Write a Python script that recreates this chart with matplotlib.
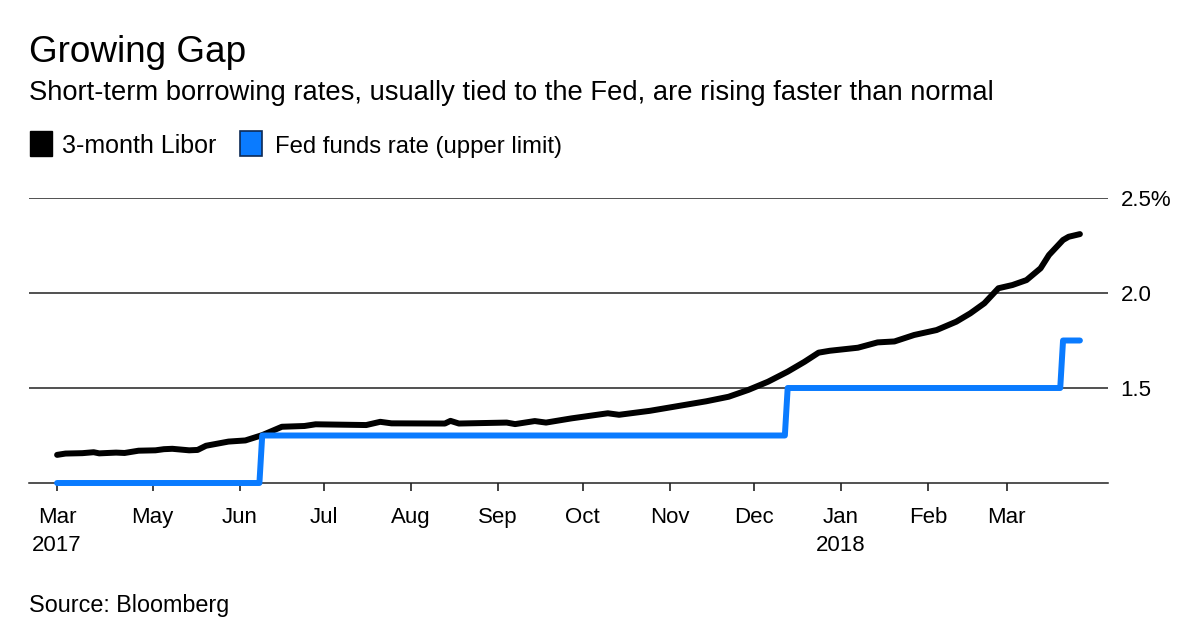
import matplotlib
matplotlib.use("Agg")
import matplotlib.pyplot as plt
import pandas as pd
from matplotlib.patches import Rectangle

plt.rcParams['font.family'] = ['Liberation Sans', 'DejaVu Sans']

# ---------------- data ----------------
libor_dates = ['2017-03-28', '2017-03-31', '2017-04-06', '2017-04-10', '2017-04-12', '2017-04-18',
               '2017-04-21', '2017-04-26', '2017-05-02', '2017-05-05',
               '2017-05-08', '2017-05-14', '2017-05-17', '2017-05-20', '2017-05-28', '2017-06-03',
               '2017-06-09',
               '2017-06-16', '2017-06-24', '2017-06-28', '2017-07-16', '2017-07-21', '2017-07-25',
               '2017-08-13', '2017-08-15', '2017-08-18', '2017-09-04', '2017-09-07', '2017-09-14',
               '2017-09-18', '2017-09-27', '2017-10-10', '2017-10-14', '2017-10-25', '2017-11-06',
               '2017-11-14', '2017-11-22', '2017-11-29', '2017-12-06', '2017-12-13', '2017-12-19',
               '2017-12-24', '2017-12-28', '2018-01-07', '2018-01-14', '2018-01-20', '2018-01-27',
               '2018-02-04', '2018-02-11', '2018-02-16', '2018-02-21', '2018-02-26', '2018-03-03',
               '2018-03-08', '2018-03-13', '2018-03-16', '2018-03-21', '2018-03-23', '2018-03-27']
libor_values = [1.148, 1.155, 1.157, 1.162, 1.156, 1.160,
                1.158, 1.170, 1.172, 1.178,
                1.180, 1.172, 1.174, 1.196, 1.218, 1.224,
                1.252,
                1.296, 1.300, 1.309, 1.305, 1.322, 1.314,
                1.313, 1.327, 1.313, 1.318, 1.310, 1.326,
                1.318, 1.340, 1.367, 1.359, 1.380, 1.410,
                1.430, 1.454, 1.490, 1.533, 1.586, 1.638,
                1.686, 1.696, 1.712, 1.740, 1.745, 1.779,
                1.805, 1.849, 1.893, 1.946, 2.025, 2.042,
                2.068, 2.130, 2.200, 2.279, 2.296, 2.310]

fed_dates = ['2017-03-28', '2017-06-08', '2017-06-09', '2017-12-12', '2017-12-13',
             '2018-03-20', '2018-03-21', '2018-03-27']
fed_values = [1.00, 1.00, 1.25, 1.25, 1.50, 1.50, 1.75, 1.75]

tick_dates = ['2017-03-28', '2017-05-01', '2017-06-01', '2017-07-01', '2017-08-01', '2017-09-01',
              '2017-10-01', '2017-11-01', '2017-12-01', '2018-01-01', '2018-02-01', '2018-03-01']
tick_labels = ['Mar\n2017', 'May', 'Jun', 'Jul', 'Aug', 'Sep', 'Oct', 'Nov', 'Dec',
               'Jan\n2018', 'Feb', 'Mar']

y_ticks = [1.5, 2.0, 2.5]
y_labels = ['1.5', '2.0', '2.5%']

title = 'Growing Gap'
subtitle = 'Short-term borrowing rates, usually tied to the Fed, are rising faster than normal'
series_names = ['3-month Libor', 'Fed funds rate (upper limit)']
source = 'Source: Bloomberg'

BLACK = '#000000'
BLUE = '#0A7BFF'

# ---------------- figure ----------------
W, H = 1200, 630
fig = plt.figure(figsize=(12, 6.3), dpi=100)
fig.patch.set_facecolor('white')

def fx(px):
    return px / W

def fy(py):
    return 1 - py / H

ax = fig.add_axes([fx(29), fy(483), fx(1108) - fx(29), fy(198) - fy(483)])

ld = pd.to_datetime(libor_dates)
fd = pd.to_datetime(fed_dates)

ax.plot(ld, libor_values, color=BLACK, lw=4.3, solid_capstyle='round',
        solid_joinstyle='round', zorder=3, clip_on=False)
ax.plot(fd, fed_values, color=BLUE, lw=4.3, solid_capstyle='round',
        solid_joinstyle='round', zorder=4, clip_on=False)

for yv in y_ticks:
    ax.axhline(yv, color='#222222', lw=1.1, zorder=1)

ax.set_xlim(pd.Timestamp('2017-03-18'), pd.Timestamp('2018-04-06'))
ax.set_ylim(1.0, 2.5)

for s in ['top', 'left', 'right']:
    ax.spines[s].set_visible(False)
ax.spines['bottom'].set_color('#222222')
ax.spines['bottom'].set_linewidth(1.1)

ax.set_xticks(pd.to_datetime(tick_dates))
ax.set_xticklabels(tick_labels, fontsize=16, linespacing=1.45)
ax.tick_params(axis='x', direction='out', length=6, width=1.2, color='#222222',
               pad=11, labelcolor='black')

ax.yaxis.tick_right()
ax.set_yticks(y_ticks)
ax.set_yticklabels(y_labels, fontsize=16)
ax.tick_params(axis='y', length=0, pad=9, labelcolor='black')
for lbl in ax.get_yticklabels():
    lbl.set_horizontalalignment('left')

# ---------------- texts ----------------
fig.text(fx(29), fy(62), title, fontsize=26.6, color='black', va='baseline', ha='left')
fig.text(fx(29), fy(100), subtitle, fontsize=19.7, color='black', va='baseline', ha='left')

# legend
fig.patches.append(Rectangle((fx(30), fy(156)), fx(22), fy(131) - fy(156),
                             transform=fig.transFigure, facecolor=BLACK,
                             edgecolor='#000000', lw=1.0))
fig.text(fx(62), fy(153), series_names[0], fontsize=18, va='baseline', ha='left')
fig.patches.append(Rectangle((fx(240), fy(156)), fx(22), fy(131) - fy(156),
                             transform=fig.transFigure, facecolor=BLUE,
                             edgecolor='#0d2a55', lw=1.2))
fig.text(fx(275), fy(153), series_names[1], fontsize=17.2, va='baseline', ha='left')

fig.text(fx(29), fy(612), source, fontsize=16.8, va='baseline', ha='left')

fig.savefig('out.png', dpi=100, facecolor='white')
